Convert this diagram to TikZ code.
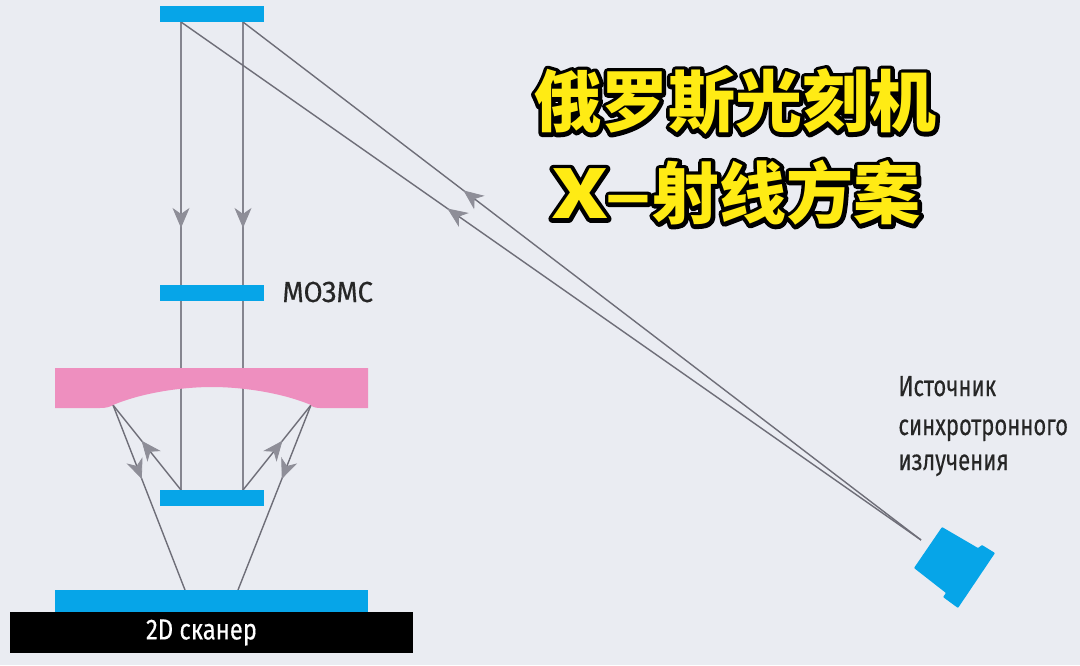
\documentclass[tikz,border=0pt]{standalone}
\usepackage{fontspec}
\usepackage{xcolor}
\usetikzlibrary{arrows.meta, decorations.markings}
\setmainfont{Fira Sans}
\newfontfamily\labelfont[FakeStretch=0.76,FakeBold=0.3]{Fira Sans}
\newfontfamily\widelabelfont[FakeStretch=0.95,FakeBold=0.3]{Fira Sans}
\newfontfamily\scanfont[FakeStretch=0.82,FakeBold=0.3]{Fira Sans}
\newfontfamily\titlefont{Noto Sans CJK SC Black}
\newfontfamily\titlewide[FakeStretch=1.3]{Noto Sans CJK SC Black}
\newcommand{\rimon}{\special{pdf:code 2 Tr 4 w 1 j}}
\newcommand{\rimoff}{\special{pdf:code 0 Tr 1 w 0 j}}
\definecolor{paper}{HTML}{EAECF2}
\definecolor{mirror}{HTML}{06A5E8}
\definecolor{lens}{HTML}{EE8FBF}
\definecolor{beam}{HTML}{6E6E78}
\definecolor{beamlight}{HTML}{85858F}
\definecolor{tip}{HTML}{8E8E98}
\definecolor{title}{HTML}{FFEB14}

\begin{document}
\begin{tikzpicture}[
    x=0.5pt, y=-0.5pt,
    plate/.style={rectangle, fill=mirror, inner sep=0pt, minimum width=52pt, minimum height=8pt},
    ray/.style={draw=beam, line width=0.7pt},
    rayfall/.style={draw=beamlight, line width=0.95pt},
    raymark/.style={postaction={decorate}, decoration={markings,
        mark=at position #1 with {\arrow[tip, line width=0.4pt]{Stealth[length=10pt, width=8.5pt, inset=3pt]}}}},
    caption/.style={font=\labelfont\fontsize{14.5}{14.5}\selectfont, text=black!85, inner sep=0pt, anchor=base west},
    headline/.style={inner sep=0pt, text=title},
    headrim/.style={inner sep=0pt, text=black}
]
    \useasboundingbox[fill=paper] (0,0) rectangle (1080,665);

    % Ray ends
    \coordinate (topA) at (181,22);
    \coordinate (topB) at (243,22);
    \coordinate (midA) at (181,490);
    \coordinate (midB) at (243,490);
    \coordinate (lensA) at (113,405);
    \coordinate (lensB) at (311,405);
    \coordinate (scanA) at (185,590);
    \coordinate (scanB) at (238,590);
    \coordinate (srcTip) at (921,540);

    % Rays
    \draw[rayfall, raymark=0.44] (topA) -- (midA);
    \draw[rayfall, raymark=0.44] (topB) -- (midB);
    \draw[ray, raymark=0.64] (srcTip) -- (topA);
    \draw[ray, raymark=0.675] (srcTip) -- (topB);
    \draw[ray, raymark=0.58] (midA) -- (lensA);
    \draw[ray, raymark=0.58] (midB) -- (lensB);
    \draw[ray, raymark=0.40] (lensA) -- (scanA);
    \draw[ray, raymark=0.40] (lensB) -- (scanB);

    % Optics
    \node[plate] (topmirror) at (212,14) {};
    \node[plate] (mozms) at (212,293) {};
    \node[plate] (submirror) at (212,497.5) {};
    \fill[lens] (55,368) -- (368,368) -- (368,408) -- (320,408)
        .. controls (314,408) and (311,406) .. (311,405)
        .. controls (280,392) and (240,387) .. (212,387)
        .. controls (184,387) and (144,392) .. (113,405)
        .. controls (110,407) and (106,408) .. (100,408) -- (55,408) -- cycle;
    \node[plate, minimum width=156.5pt, minimum height=11pt] (wafer) at (211.5,601) {};
    \node[rectangle, fill=black, inner sep=0pt, minimum width=201.5pt, minimum height=20.5pt,
        text=white, font=\scanfont\fontsize{14.5}{14.5}\selectfont] (scanner) at (211.5,632.5) {2D сканер\kern10pt};

    % Source
    \fill[mirror, rounded corners=0.4pt] (942,527) -- (978,548) -- (982,545) -- (995,553) -- (958,608)
        -- (943,597) -- (946,593) -- (914,568) -- cycle;

    % Labels
    \node[caption, font=\widelabelfont\fontsize{14.5}{14.5}\selectfont] (mozmslabel) at (282,302) {МОЗМС};
    \node[caption] (srcA) at (898,396) {Источник};
    \node[caption] (srcB) at (898,435) {синхротронного};
    \node[caption] (srcC) at (898,470) {излучения};

    % Title
    \node[headrim, font=\titlefont\fontsize{33.5}{33.5}\selectfont] (rimA) at (735.5,102) {\rimon 俄罗斯光刻机\rimoff};
    \node[headline, font=\titlefont\fontsize{33.5}{33.5}\selectfont] (headA) at (735.5,102) {俄罗斯光刻机};
    \node[headrim, anchor=east, font=\titlefont\fontsize{33.5}{33.5}\selectfont] (rimB) at (921,193) {\rimon{\titlewide X–}射线方案\rimoff};
    \node[headline, anchor=east, font=\titlefont\fontsize{33.5}{33.5}\selectfont] (headB) at (921,193) {{\titlewide X–}射线方案};
\end{tikzpicture}
\end{document}
